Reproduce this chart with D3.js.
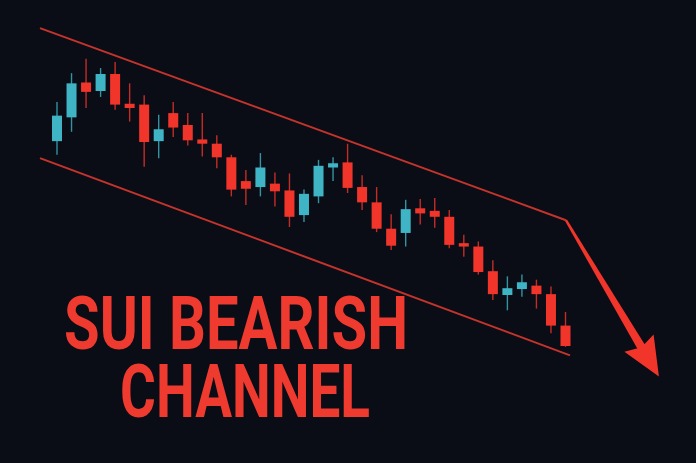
<!DOCTYPE html>
<html>
<head>
<meta charset="utf-8">
<script src="https://cdn.jsdelivr.net/npm/d3@7"></script>
<style>
  html, body { margin: 0; padding: 0; background: #0a0d16; }
  svg { display: block; }
</style>
</head>
<body>
<svg id="chart" width="696" height="463"></svg>
<script>
// ---- data (price units) ----
const candleIndex = d3.range(36);
const opens  = [2.81,3.09,3.50,3.40,3.60,3.25,3.24,2.81,3.14,3.00,2.83,2.78,2.62,2.34,2.27,2.31,2.23,1.94,2.16,2.50,2.56,2.27,2.09,1.78,1.73,2.02,1.99,1.92,1.61,1.57,1.28,1.00,1.07,1.11,1.01,0.64];
const highs  = [3.27,3.61,3.78,3.67,3.74,3.49,3.35,3.12,3.27,3.14,3.14,2.88,2.65,2.47,2.67,2.44,2.43,2.24,2.59,2.62,2.78,2.41,2.27,1.95,2.12,2.13,2.14,2.00,1.71,1.63,1.41,1.22,1.24,1.18,1.10,0.80];
const lows   = [2.65,2.92,3.20,3.33,3.18,3.04,2.51,2.61,2.86,2.76,2.63,2.49,2.16,2.06,2.16,2.04,1.80,1.86,2.08,2.34,2.20,2.00,1.74,1.53,1.57,1.83,1.79,1.55,1.45,1.24,0.94,0.82,0.98,0.84,0.55,0.39];
const closes = [3.11,3.49,3.39,3.60,3.24,3.20,2.80,2.95,2.97,2.82,2.78,2.62,2.24,2.25,2.50,2.22,1.92,2.19,2.52,2.55,2.26,2.09,1.78,1.58,2.01,1.96,1.92,1.59,1.57,1.27,1.01,1.08,1.15,1.01,0.64,0.40];

// channel lines and arrow (index, price)
const channelUpper = [{i:-1.17, p:4.14}, {i:35.03, p:1.88}];
const channelLower = [{i:-1.17, p:2.61}, {i:35.31, p:0.29}];
const arrowPath    = [{i:35.03, p:1.88}, {i:41.43, p:0.04}];

const titleLines = ["SUI BEARISH", "CHANNEL"];

// ---- styles ----
const UP = "#3fb4c4", DOWN = "#f2352b", LINE = "#d8382f", TEXT = "#ef3a2f";

const svg = d3.select("#chart");
svg.append("rect").attr("width", 696).attr("height", 463).attr("fill", "#0a0d16");

const x = d3.scaleLinear().domain([0, 35]).range([57, 565.5]);
const y = d3.scaleLinear().domain([0, 4]).range([380, 40]);

const candles = candleIndex.map(i => ({i, o: opens[i], h: highs[i], l: lows[i], c: closes[i]}));

// channel lines
const line = d3.line().x(d => x(d.i)).y(d => y(d.p));
svg.append("path").datum(channelUpper).attr("d", line)
  .attr("stroke", LINE).attr("stroke-width", 2).attr("fill", "none").attr("stroke-opacity", 0.9);
svg.append("path").datum(channelLower).attr("d", line)
  .attr("stroke", LINE).attr("stroke-width", 2).attr("fill", "none").attr("stroke-opacity", 0.9);

// candles
const g = svg.append("g");
g.selectAll("line.wick").data(candles).join("line")
  .attr("x1", d => x(d.i)).attr("x2", d => x(d.i))
  .attr("y1", d => y(d.h)).attr("y2", d => y(d.l))
  .attr("stroke", d => d.c >= d.o ? UP : DOWN)
  .attr("stroke-opacity", 0.8)
  .attr("stroke-width", 1.4);
const bw = 10;
g.selectAll("rect.body").data(candles).join("rect")
  .attr("x", d => x(d.i) - bw / 2)
  .attr("width", bw)
  .attr("y", d => y(Math.max(d.o, d.c)))
  .attr("height", d => Math.max(3, Math.abs(y(d.o) - y(d.c))))
  .attr("fill", d => d.c >= d.o ? UP : DOWN);

// arrow
const A = [x(arrowPath[0].i), y(arrowPath[0].p)];
const B = [x(arrowPath[1].i), y(arrowPath[1].p)];
const len = Math.hypot(B[0] - A[0], B[1] - A[1]);
const u = [(B[0] - A[0]) / len, (B[1] - A[1]) / len];
const n = [-u[1], u[0]];
const headLen = 39, headHalf = 17, notch = 5;
const base = [B[0] - u[0] * headLen, B[1] - u[1] * headLen];
const pt = (p, a, b) => [p[0] + u[0] * a + n[0] * b, p[1] + u[1] * a + n[1] * b];
const shaft = [pt(A, 0, -1.2), pt(A, 0, 1.2), pt(base, notch + 1, 4.2), pt(base, notch + 1, -4.2)];
svg.append("polygon").attr("points", shaft.map(p => p.join(",")).join(" ")).attr("fill", DOWN);
const head = [B, pt(base, 0, headHalf), pt(base, notch, 0), pt(base, 0, -headHalf)];
svg.append("polygon").attr("points", head.map(p => p.join(",")).join(" ")).attr("fill", DOWN);

// title text
const title = svg.append("g")
  .attr("font-family", "Roboto, 'Liberation Sans', sans-serif")
  .attr("font-weight", 700)
  .attr("font-size", 74)
  .attr("fill", TEXT);
title.append("text").attr("x", 64).attr("y", 349)
  .attr("textLength", 344).attr("lengthAdjust", "spacingAndGlyphs").text(titleLines[0]);
title.append("text").attr("x", 120).attr("y", 417)
  .attr("textLength", 250).attr("lengthAdjust", "spacingAndGlyphs").text(titleLines[1]);
</script>
</body>
</html>
